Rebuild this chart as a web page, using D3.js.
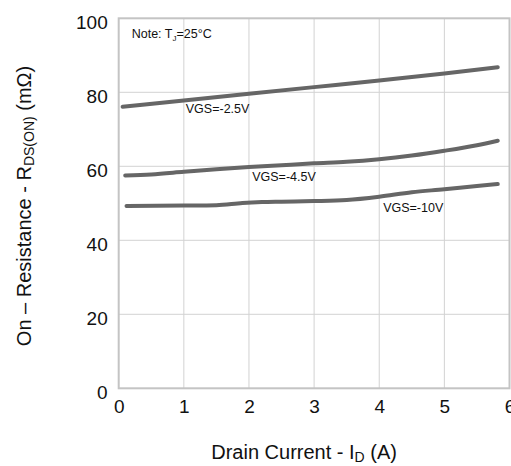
<!DOCTYPE html>
<html><head><meta charset="utf-8">
<script src="https://cdn.jsdelivr.net/npm/d3@7"></script>
<style>body{margin:0;background:#fff}svg{display:block;font-family:"Liberation Sans",Arial,sans-serif}</style>
</head><body><svg id="c" width="511" height="466"></svg>
<script>
const xTicks = [0,1,2,3,4,5,6];
const yTicks = [0,20,40,60,80,100];
const seriesNames = ["VGS=-2.5V","VGS=-4.5V","VGS=-10V"];
const x25 = [0.06,1,2,3,4,5,5.82];
const y25 = [76.1,77.8,79.6,81.4,83.2,85.1,86.8];
const x45 = [0.1,0.5,1,1.5,2,2.5,3,3.5,4,4.5,5,5.5,5.82];
const y45 = [57.5,57.8,58.5,59.2,59.8,60.3,60.8,61.2,61.9,62.9,64.2,65.7,66.9];
const x10 = [0.12,1,1.5,1.9,2.2,2.5,3,3.5,4,4.5,5,5.5,5.82];
const y10 = [49.3,49.4,49.5,50.1,50.35,50.45,50.6,50.9,51.8,53.0,53.8,54.7,55.2];
const labelX = [1.03,2.05,4.06];
const labelY = [74.5,56.0,47.6];

const svg = d3.select("#c");
const L=118.7, R=509.5, T=18.3, B=388.3;
const x = d3.scaleLinear().domain([0,6]).range([L,R]);
const y = d3.scaleLinear().domain([0,100]).range([B,T]);

// grid
svg.append("g").selectAll("line.v").data(xTicks.slice(1,-1)).join("line")
  .attr("x1",d=>x(d)).attr("x2",d=>x(d)).attr("y1",T).attr("y2",B)
  .attr("stroke","#d2d2d2").attr("stroke-width",1);
svg.append("g").selectAll("line.h").data(yTicks.slice(1,-1)).join("line")
  .attr("x1",L).attr("x2",R).attr("y1",d=>y(d)).attr("y2",d=>y(d))
  .attr("stroke","#d2d2d2").attr("stroke-width",1);
svg.append("rect").attr("x",L).attr("y",T).attr("width",R-L).attr("height",B-T)
  .attr("fill","none").attr("stroke","#c4c4c4").attr("stroke-width",2);

// axes tick labels
const xa = d3.axisBottom(x).tickValues(xTicks).tickFormat(d3.format("d")).tickSize(0).tickPadding(8);
svg.append("g").attr("transform",`translate(0,${B})`).call(xa)
  .call(g=>g.select(".domain").remove())
  .selectAll("text").attr("font-size",19).attr("fill","#111").attr("font-family","Liberation Sans, Arial, sans-serif").attr("dy","0.9em");
const ya = d3.axisLeft(y).tickValues(yTicks).tickFormat(d3.format("d")).tickSize(0).tickPadding(11);
svg.append("g").attr("transform",`translate(${L},0)`).call(ya)
  .call(g=>g.select(".domain").remove())
  .selectAll("text").attr("font-size",19).attr("fill","#111").attr("font-family","Liberation Sans, Arial, sans-serif").attr("dy","0.52em");

// curves
const line = d3.line().x(d=>x(d[0])).y(d=>y(d[1])).curve(d3.curveMonotoneX);
const series = [d3.zip(x25,y25), d3.zip(x45,y45), d3.zip(x10,y10)];
svg.append("g").selectAll("path").data(series).join("path")
  .attr("d",line).attr("fill","none").attr("stroke","#666")
  .attr("stroke-width",4).attr("stroke-linecap","round");

// series labels
svg.append("g").selectAll("text").data(seriesNames).join("text")
  .attr("x",(d,i)=>x(labelX[i])).attr("y",(d,i)=>y(labelY[i]))
  .attr("font-size",12.5).attr("fill","#111").text(d=>d);

// note
const note = svg.append("text").attr("x",x(0.2)).attr("y",y(94.7)).attr("font-size",12.5).attr("fill","#111");
note.append("tspan").text("Note: T");
note.append("tspan").attr("font-size",8).attr("dy",3).text("J");
note.append("tspan").attr("dy",-3).text("=25°C");

// axis titles
const xt = svg.append("text").attr("x",(L+R)/2-10).attr("y",459).attr("text-anchor","middle").attr("font-size",20).attr("fill","#111");
xt.append("tspan").text("Drain Current - I");
xt.append("tspan").attr("font-size",14).attr("dy",3).text("D");
xt.append("tspan").attr("dy",-3).text(" (A)");

const yt = svg.append("text").attr("transform","translate(31,206) rotate(-90)").attr("text-anchor","middle").attr("font-size",20).attr("fill","#111");
yt.append("tspan").text("On – Resistance - R");
yt.append("tspan").attr("font-size",14).attr("dy",3).text("DS(ON)");
yt.append("tspan").attr("dy",-3).text(" (mΩ)");
</script></body></html>
